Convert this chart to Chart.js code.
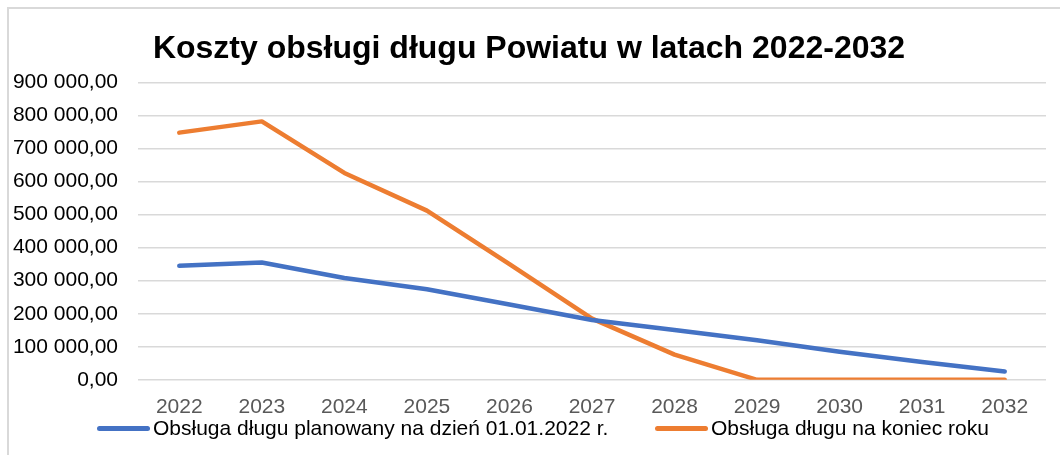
<!DOCTYPE html>
<html>
<head>
<meta charset="utf-8">
<script src="https://cdn.jsdelivr.net/npm/chart.js@4/dist/chart.umd.min.js"></script>
<style>
  html, body { margin: 0; padding: 0; background: #fff; }
  #wrap { position: relative; width: 1060px; height: 455px; overflow: hidden; }
  #frame { position: absolute; left: 7px; top: 7px; width: 1100px; height: 500px;
           border-left: 2px solid #d9d9d9; border-top: 2px solid #d9d9d9; }
  canvas { position: absolute; left: 0; top: 0; }
  .leg { position: absolute; top: 415px; font: 21px "Liberation Sans", Arial, sans-serif;
         color: #000; white-space: nowrap; display: flex; align-items: center; height: 26px; }
  .leg span.sw { display: inline-block; width: 53px; height: 5px; border-radius: 3px; margin-right: 3px; }
</style>
</head>
<body>
<div id="wrap">
  <div id="frame"></div>
  <canvas id="chart" width="1060" height="455"></canvas>
  <div id="legend"></div>
</div>
<script>
// dane
const years = ['2022', '2023', '2024', '2025', '2026', '2027', '2028', '2029', '2030', '2031', '2032'];
const planowany = [345000, 355000, 308000, 274000, 228000, 181000, 151000, 120000, 85000, 54000, 25000];
const koniecRoku = [748000, 782000, 626000, 512000, 350000, 185000, 76000, 0, 0, 0, 0];
const seriesNames = ['Obsługa długu planowany na dzień 01.01.2022 r.', 'Obsługa długu na koniec roku'];
const seriesColors = ['#4472C4', '#ED7D31'];
const yTicks = [0, 100000, 200000, 300000, 400000, 500000, 600000, 700000, 800000, 900000];

function fmt(v) {
    return Math.round(v).toString().replace(/\B(?=(\d{3})+(?!\d))/g, ' ') + ',00';
}

const font = "'Liberation Sans', Arial, sans-serif";

new Chart(document.getElementById('chart').getContext('2d'), {
    type: 'line',
    data: {
        labels: years,
        datasets: [planowany, koniecRoku].map(function(d, i) {
            return {
                label: seriesNames[i],
                data: d,
                borderColor: seriesColors[i],
                backgroundColor: seriesColors[i],
                borderWidth: 4.5,
                borderCapStyle: 'round',
                borderJoinStyle: 'round',
                pointRadius: 0,
                tension: 0
            };
        })
    },
    options: {
        responsive: false,
        animation: false,
        layout: { padding: { left: 12, right: 14, top: 0, bottom: 28 } },
        plugins: {
            legend: { display: false },
            tooltip: { enabled: false },
            title: {
                display: true,
                text: 'Koszty obsługi długu Powiatu w latach 2022-2032',
                color: '#000',
                font: { family: font, size: 32, weight: 'bold' },
                padding: { top: 30, bottom: 14 }
            }
        },
        scales: {
            x: {
                offset: true,
                grid: { display: false },
                border: { display: false },
                ticks: { color: '#595959', font: { family: font, size: 21 }, padding: 7, maxRotation: 0 }
            },
            y: {
                min: 0,
                max: 900000,
                afterBuildTicks: function(axis) { axis.ticks = yTicks.map(function(v) { return { value: v }; }); },
                afterFit: function(axis) { axis.width = 126; },
                grid: { color: '#d9d9d9', lineWidth: 1.5, drawTicks: false },
                border: { display: false },
                ticks: { color: '#000', font: { family: font, size: 21 }, padding: 20, callback: fmt }
            }
        }
    }
});

// legenda
const lefts = [97, 655];
const legend = document.getElementById('legend');
seriesNames.forEach(function(name, i) {
    const el = document.createElement('div');
    el.className = 'leg';
    el.style.left = lefts[i] + 'px';
    el.innerHTML = '<span class="sw" style="background:' + seriesColors[i] + '"></span>' + name;
    legend.appendChild(el);
});
</script>
</body>
</html>
